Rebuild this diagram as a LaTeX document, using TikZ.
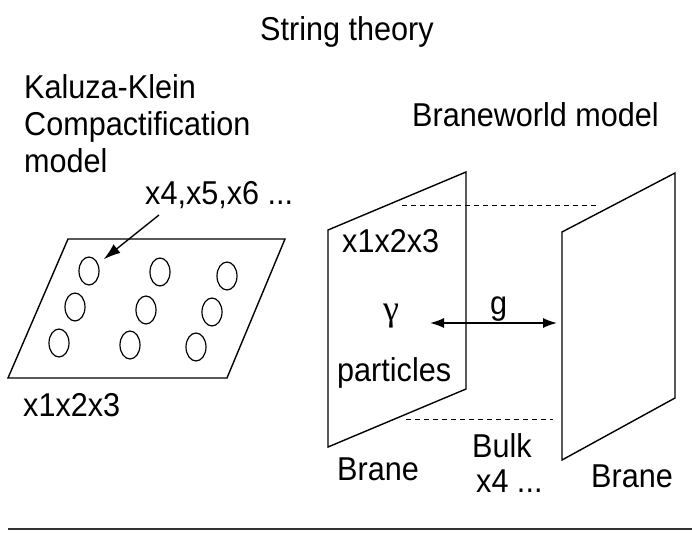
\documentclass[tikz,border=0pt]{standalone}
\usepackage{fontspec}
\usepackage{graphicx}
\setmainfont{Liberation Sans}
\newfontfamily\grfont{Liberation Serif}
\newcommand{\tallt}[1]{\scalebox{1}[1.08]{#1}}
\usetikzlibrary{arrows.meta,shapes.geometric}
\begin{document}
\begin{tikzpicture}[x=1pt,y=-1pt,
  lbl/.style={anchor=base west, inner sep=0pt, font=\fontsize{30.6}{36}\selectfont},
  plane/.style={draw=black, line width=1.4pt, line join=miter},
  hole/.style={draw=black, line width=1.2pt, ellipse, minimum width=20pt, minimum height=28pt, inner sep=0pt},
  guide/.style={draw=black, line width=0.9pt, dash pattern=on 5pt off 4pt},
  arr/.style={draw=black, line width=1.4pt, -{Latex[length=17pt,width=11pt]}},
  darr/.style={draw=black, line width=1.6pt, {Latex[length=14pt,width=10pt]}-{Latex[length=14pt,width=10pt]}}]
\useasboundingbox (0,0) rectangle (692,534);

% title and headings
\node[lbl] (title) at (260,41) {\tallt{String theory}};
\node[lbl] (kk1) at (24,99) {\tallt{Kaluza-Klein}};
\node[lbl] (kk2) at (24,136) {\tallt{Compactification}};
\node[lbl] (kk3) at (24,173) {\tallt{model}};
\node[lbl] (bw) at (412,127) {\tallt{Braneworld model}};

% Kaluza-Klein plane
\draw[plane] (68,239) -- (285,239) -- (227,378) -- (8,378) -- cycle;
\node[hole] (c1) at (89,271) {};
\node[hole] (c2) at (160,272) {};
\node[hole] (c3) at (227,276) {};
\node[hole] (c4) at (75,307) {};
\node[hole] (c5) at (146,310) {};
\node[hole] (c6) at (212,312) {};
\node[hole] (c7) at (59,343) {};
\node[hole] (c8) at (130,345) {};
\node[hole] (c9) at (196,347) {};
\node[lbl] (xs) at (145,205) {\tallt{x4,x5,x6 ...}};
\coordinate (xsfoot) at (159,215);
\draw[arr, shorten >=7pt] (xsfoot) -- (c1);
\node[lbl] (x123a) at (23,416) {\tallt{x1x2x3}};

% Braneworld planes
\draw[plane] (328,230) -- (466,172) -- (466,389) -- (328,447) -- cycle;
\draw[plane] (562,232) -- (675,173) -- (675,398) -- (562,460) -- cycle;
\coordinate (dt1) at (402,205);
\coordinate (dt2) at (598,205);
\coordinate (db1) at (406,419);
\coordinate (db2) at (553,419);
\draw[guide] (dt1) -- (dt2);
\draw[guide] (db1) -- (db2);

\node[lbl] (x123b) at (342,253) {\tallt{x1x2x3}};
\node[inner sep=0pt, font=\grfont\fontsize{36}{40}\selectfont] (gam) at (391,316) {γ};
\node[lbl] (parts) at (337,381) {\tallt{particles}};
\coordinate (gl) at (430,323);
\coordinate (gr) at (557,323);
\draw[darr] (gl) -- (gr);
\node[lbl] (g) at (490,314) {\tallt{g}};
\node[lbl] (brA) at (337,480) {\tallt{Brane}};
\node[lbl] (bulk) at (472,457) {\tallt{Bulk}};
\node[lbl] (x4) at (476,492) {\tallt{x4 ...}};
\node[lbl] (brB) at (591,487) {\tallt{Brane}};

% bottom rule
\coordinate (r1) at (8,529);
\coordinate (r2) at (692,529);
\draw[line width=2.4pt, black!80] (r1) -- (r2);
\end{tikzpicture}
\end{document}
